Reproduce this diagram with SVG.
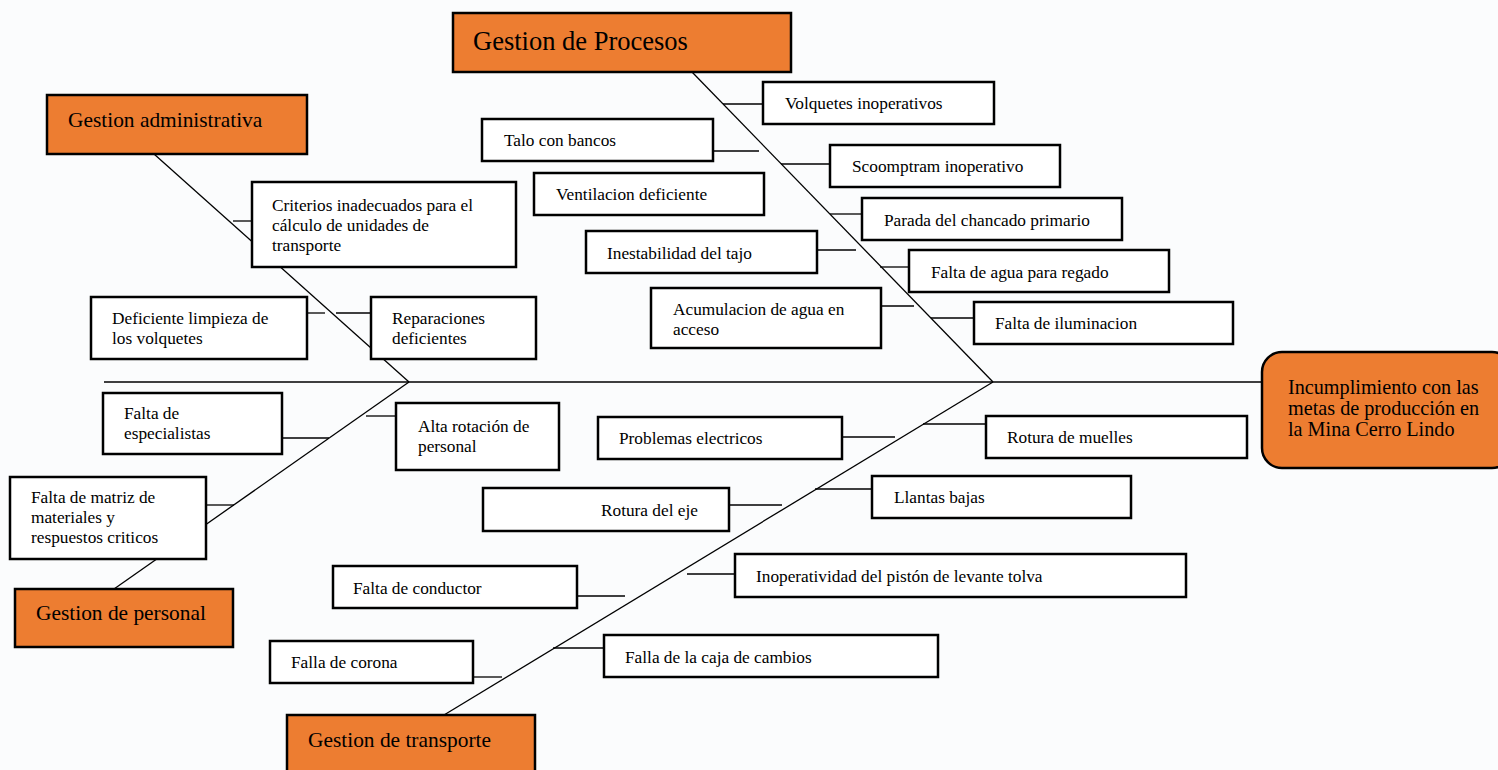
<svg xmlns="http://www.w3.org/2000/svg" width="1498" height="770" viewBox="0 0 1498 770">
<style>
text{font-family:"Liberation Serif","Times New Roman",serif;fill:#000}
.t{font-size:17.3px}
.h{font-size:21.4px}
.b{fill:#fff;stroke:#000;stroke-width:2.5}
.o{fill:#ED7D31;stroke:#000;stroke-width:2.5}
.c line{stroke:#000;stroke-width:1.3}
</style>
<rect x="0" y="0" width="1498" height="770" fill="#fbfcfd"/>
<g class="c" id="connectors">
<line x1="104" y1="382" x2="1262" y2="382"/>
<line x1="154" y1="154" x2="409" y2="382"/>
<line x1="409" y1="382" x2="114" y2="589"/>
<line x1="692" y1="72" x2="993" y2="382"/>
<line x1="993" y1="382" x2="444" y2="715"/>
<line x1="233" y1="221" x2="252" y2="221"/>
<line x1="307" y1="313" x2="325" y2="313"/>
<line x1="336" y1="313" x2="371" y2="313"/>
<line x1="282" y1="438" x2="329" y2="438"/>
<line x1="366" y1="416" x2="396" y2="416"/>
<line x1="206" y1="505" x2="234" y2="505"/>
<line x1="723" y1="104" x2="763" y2="104"/>
<line x1="713" y1="151" x2="759" y2="151"/>
<line x1="781" y1="164" x2="830" y2="164"/>
<line x1="830" y1="214" x2="862" y2="214"/>
<line x1="817" y1="250" x2="856" y2="250"/>
<line x1="880" y1="267" x2="909" y2="267"/>
<line x1="881" y1="306" x2="914" y2="306"/>
<line x1="931" y1="318" x2="974" y2="318"/>
<line x1="842" y1="437" x2="895" y2="437"/>
<line x1="923" y1="424" x2="986" y2="424"/>
<line x1="815" y1="489" x2="872" y2="489"/>
<line x1="729" y1="505" x2="782" y2="505"/>
<line x1="687" y1="574" x2="735" y2="574"/>
<line x1="577" y1="596" x2="625" y2="596"/>
<line x1="553" y1="648" x2="604" y2="648"/>
<line x1="473" y1="677" x2="502" y2="677"/>
</g>
<g id="gestion-administrativa"><rect class="o" x="47" y="95" width="260" height="59"/><text class="h" x="68" y="127">Gestion administrativa</text></g>
<g id="gestion-procesos"><rect class="o" x="453" y="13" width="338" height="59"/><text x="473" y="50" style="font-size:26.5px">Gestion de Procesos</text></g>
<g id="gestion-personal"><rect class="o" x="15" y="589" width="218" height="58"/><text class="h" x="36" y="620">Gestion de personal</text></g>
<g id="gestion-transporte"><rect class="o" x="287" y="715" width="248" height="60"/><text class="h" x="308" y="747">Gestion de transporte</text></g>
<g id="efecto"><rect class="o" x="1262" y="352" width="250" height="116" rx="20" ry="20"/><text style="font-size:20.2px"><tspan x="1288" y="394">Incumplimiento con las</tspan><tspan x="1288" y="415">metas de producción en</tspan><tspan x="1288" y="436">la Mina Cerro Lindo</tspan></text></g>
<g id="criterios"><rect class="b" x="252" y="182" width="264" height="85"/><text class="t"><tspan x="272" y="211">Criterios inadecuados para el</tspan><tspan x="272" y="231">cálculo de unidades de</tspan><tspan x="272" y="251">transporte</tspan></text></g>
<g id="deficiente-limpieza"><rect class="b" x="91" y="297" width="216" height="62"/><text class="t"><tspan x="112" y="324">Deficiente limpieza de</tspan><tspan x="112" y="344">los volquetes</tspan></text></g>
<g id="reparaciones"><rect class="b" x="371" y="297" width="165" height="62"/><text class="t"><tspan x="392" y="324">Reparaciones</tspan><tspan x="392" y="344">deficientes</tspan></text></g>
<g id="falta-especialistas"><rect class="b" x="103" y="393" width="179" height="61"/><text class="t"><tspan x="124" y="419">Falta de</tspan><tspan x="124" y="439">especialistas</tspan></text></g>
<g id="alta-rotacion"><rect class="b" x="396" y="403" width="163" height="67"/><text class="t"><tspan x="418" y="432">Alta rotación de</tspan><tspan x="418" y="452">personal</tspan></text></g>
<g id="falta-matriz"><rect class="b" x="10" y="477" width="196" height="82"/><text class="t"><tspan x="31" y="503">Falta de matriz de</tspan><tspan x="31" y="523">materiales y</tspan><tspan x="31" y="543">respuestos criticos</tspan></text></g>
<g id="volquetes"><rect class="b" x="763" y="82" width="231" height="42"/><text class="t" x="785" y="109">Volquetes inoperativos</text></g>
<g id="talo"><rect class="b" x="482" y="119" width="231" height="42"/><text class="t" x="504" y="146">Talo con bancos</text></g>
<g id="scoomptram"><rect class="b" x="830" y="145" width="230" height="42"/><text class="t" x="852" y="172">Scoomptram inoperativo</text></g>
<g id="ventilacion"><rect class="b" x="534" y="173" width="230" height="42"/><text class="t" x="556" y="200">Ventilacion deficiente</text></g>
<g id="parada"><rect class="b" x="862" y="198" width="260" height="42"/><text class="t" x="884" y="226">Parada del chancado primario</text></g>
<g id="inestabilidad"><rect class="b" x="586" y="231" width="231" height="42"/><text class="t" x="607" y="259">Inestabilidad del tajo</text></g>
<g id="falta-agua"><rect class="b" x="909" y="250" width="260" height="42"/><text class="t" x="931" y="278">Falta de agua para regado</text></g>
<g id="acumulacion"><rect class="b" x="651" y="288" width="230" height="60"/><text class="t"><tspan x="673" y="315">Acumulacion de agua en</tspan><tspan x="673" y="335">acceso</tspan></text></g>
<g id="iluminacion"><rect class="b" x="974" y="302" width="259" height="42"/><text class="t" x="995" y="329">Falta de iluminacion</text></g>
<g id="problemas-electricos"><rect class="b" x="598" y="417" width="244" height="42"/><text class="t" x="619" y="444">Problemas electricos</text></g>
<g id="rotura-muelles"><rect class="b" x="986" y="416" width="261" height="42"/><text class="t" x="1007" y="443">Rotura de muelles</text></g>
<g id="llantas"><rect class="b" x="872" y="476" width="259" height="42"/><text class="t" x="894" y="503">Llantas bajas</text></g>
<g id="rotura-eje"><rect class="b" x="483" y="488" width="246" height="43"/><text class="t" x="601" y="516">Rotura del eje</text></g>
<g id="inoperatividad"><rect class="b" x="735" y="554" width="451" height="43"/><text class="t" x="756" y="582">Inoperatividad del pistón de levante tolva</text></g>
<g id="falta-conductor"><rect class="b" x="333" y="566" width="244" height="42"/><text class="t" x="353" y="594">Falta de conductor</text></g>
<g id="caja-cambios"><rect class="b" x="604" y="635" width="334" height="42"/><text class="t" x="625" y="663">Falla de la caja de cambios</text></g>
<g id="falla-corona"><rect class="b" x="270" y="641" width="203" height="42"/><text class="t" x="291" y="668">Falla de corona</text></g>
</svg>
